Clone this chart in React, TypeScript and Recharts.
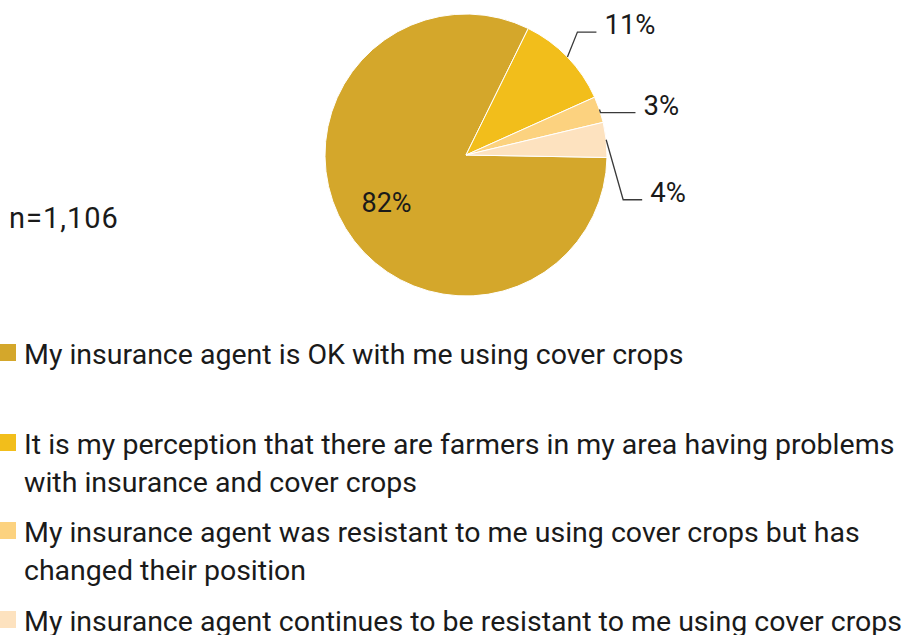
import React from "react";
import { PieChart, Pie, Cell, Legend } from "recharts";

const categories = [
	"My insurance agent is OK with me using cover crops",
	"It is my perception that there are farmers in my area having problems with insurance and cover crops",
	"My insurance agent was resistant to me using cover crops but has changed their position",
	"My insurance agent continues to be resistant to me using cover crops",
];
const shares = [82, 11, 3, 4];
const labels = ["82%", "11%", "3%", "4%"];
const sampleNote = "n=1,106";

const palette = ["#D4A72B", "#F2BE1B", "#FCD27F", "#FDE2BF"];

// elbow callouts for the outside labels: [dx, dy, horizontal run]
const calloutOffsets: Array<[number, number, number] | null> = [
	null,
	[10, -25, 19],
	[1, 3, 35],
	[17, 60, 19],
];
const legendGaps = [0, 52, 12, 13];

const FONT = "Roboto, 'Open Sans', sans-serif";
const RAD = Math.PI / 180;

const data = categories.map((name, i) => ({ name, value: shares[i] }));

function renderLabel(props: {
	cx: number;
	cy: number;
	midAngle: number;
	outerRadius: number;
	index: number;
}) {
	const { cx, cy, midAngle, outerRadius, index } = props;
	const cos = Math.cos(-midAngle * RAD);
	const sin = Math.sin(-midAngle * RAD);
	const text = labels[index];

	const offsets = calloutOffsets[index];
	if (!offsets) {
		const r = outerRadius * 0.66;
		return (
			<text
				x={cx + r * cos}
				y={cy + r * sin}
				textAnchor="middle"
				dominantBaseline="central"
				fill="#1a1a1a"
				fontSize={27}
				fontFamily={FONT}
			>
				{text}
			</text>
		);
	}

	const sx = cx + outerRadius * cos;
	const sy = cy + outerRadius * sin;
	const ex = sx + offsets[0];
	const ey = sy + offsets[1];
	const tx = ex + offsets[2];
	return (
		<g>
			<polyline
				points={`${sx},${sy} ${ex},${ey} ${tx},${ey}`}
				fill="none"
				stroke="#3a3a3a"
				strokeWidth={1.3}
			/>
			<text
				x={tx + 8}
				y={ey + 2}
				fill="#1a1a1a"
				fontSize={27.5}
				fontFamily={FONT}
			>
				{text}
			</text>
		</g>
	);
}

// legend keeps the data order (recharts would sort the payload by name)
function LegendContent() {
	return (
		<div style={{ width: 909, fontFamily: FONT, fontSize: 28.5, color: "#1a1a1a" }}>
			{categories.map((name, i) => (
				<div
					key={name}
					style={{ display: "flex", marginTop: legendGaps[i], lineHeight: "38px" }}
				>
					<span
						style={{
							flex: "0 0 16px",
							height: 17,
							marginTop: 8,
							background: palette[i],
						}}
					/>
					<span style={{ marginLeft: 8, width: 885 }}>{name}</span>
				</div>
			))}
		</div>
	);
}

export default function App() {
	return (
		<div
			style={{
				position: "absolute",
				left: 0,
				top: 0,
				width: 909,
				height: 635,
				overflow: "hidden",
				background: "#fff",
			}}
		>
			<div
				style={{
					position: "absolute",
					left: 9,
					top: 204,
					fontFamily: FONT,
					fontSize: 29,
					letterSpacing: 1,
					lineHeight: "29px",
					color: "#1a1a1a",
				}}
			>
				{sampleNote}
			</div>
			<PieChart
				width={909}
				height={635}
				margin={{ top: 0, right: 0, bottom: 0, left: 0 }}
			>
				<Pie
					data={data}
					dataKey="value"
					nameKey="name"
					cx={466}
					cy={155}
					outerRadius={141}
					startAngle={-1}
					endAngle={-361}
					stroke="#fff"
					strokeWidth={1}
					label={renderLabel}
					labelLine={false}
					isAnimationActive={false}
				>
					{data.map((d, i) => (
						<Cell key={d.name} fill={palette[i]} />
					))}
				</Pie>
				<Legend
					content={<LegendContent />}
					wrapperStyle={{ top: 336, left: 0, bottom: "auto", width: 909 }}
				/>
			</PieChart>
		</div>
	);
}
